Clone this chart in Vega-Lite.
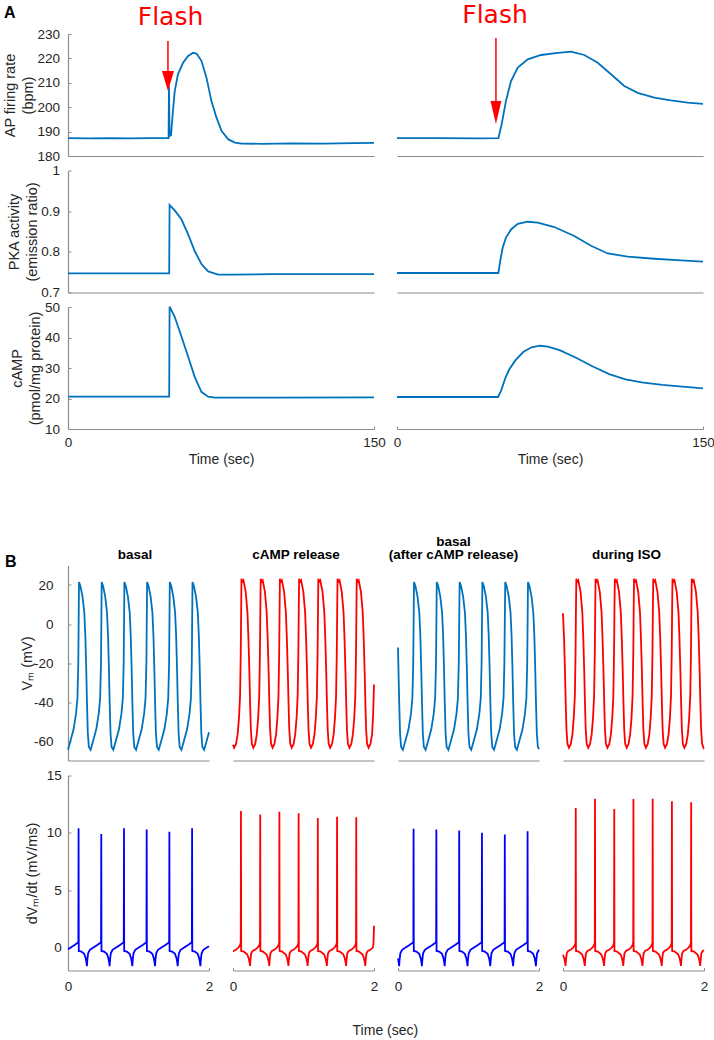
{
"$schema":"https://vega.github.io/schema/vega-lite/v6.json",
"background":"white",
"padding":{"left":2,"top":2,"right":2,"bottom":2},
"config":{
 "view":{"stroke":null},
 "font":"Liberation Sans",
 "axis":{"domainColor":"#8c8c8c","domainWidth":1.2,"tickColor":"#8c8c8c","tickWidth":1,"labelColor":"#262626","titleColor":"#262626","labelFont":"Liberation Sans","titleFont":"Liberation Sans","labelFontSize":13.5,"titleFontSize":14.5,"titleFontWeight":"normal","grid":false,"labelFlush":false},
 "axisY":{"tickSize":-3,"labelPadding":11.5,"titlePadding":1.5,"titleLineHeight":18},
 "axisX":{"tickSize":-3,"labelPadding":9,"titlePadding":4},
 "title":{"font":"Liberation Sans","color":"#000000"}
},
"datasets":{
 "a1L":[{"t":0,"v":187.3},{"t":10,"v":187.2},{"t":20,"v":187.3},{"t":30,"v":187.2},{"t":40,"v":187.3},{"t":49.3,"v":187.3},{"t":49.5,"v":208.7},{"t":49.8,"v":188.2},{"t":50.5,"v":188.5},{"t":51.3,"v":197},{"t":52.3,"v":206.5},{"t":53.9,"v":213.5},{"t":56.4,"v":218.2},{"t":58.9,"v":221},{"t":61.3,"v":222.3},{"t":63,"v":222},{"t":65.4,"v":219},{"t":67.9,"v":212},{"t":70.3,"v":202.5},{"t":72.8,"v":195.7},{"t":75.3,"v":190.2},{"t":78.6,"v":186.8},{"t":81.8,"v":185.5},{"t":85.1,"v":185.1},{"t":95,"v":185},{"t":110,"v":185.2},{"t":125,"v":185.1},{"t":140,"v":185.3},{"t":150,"v":185.4}],
 "a1R":[{"t":0,"v":187.3},{"t":20,"v":187.3},{"t":40,"v":187.2},{"t":49.7,"v":187.3},{"t":51.3,"v":193},{"t":53.4,"v":202.5},{"t":55.9,"v":210.7},{"t":59.2,"v":216.2},{"t":64.1,"v":219.6},{"t":70.6,"v":221.4},{"t":78.8,"v":222.3},{"t":85.3,"v":222.8},{"t":91.8,"v":221.4},{"t":98.4,"v":218.2},{"t":104.9,"v":213.5},{"t":111.4,"v":208.7},{"t":118,"v":205.9},{"t":126.1,"v":203.9},{"t":134.3,"v":202.8},{"t":142.5,"v":201.9},{"t":150,"v":201.4}],
 "a2L":[{"t":0,"v":0.747},{"t":49.6,"v":0.747},{"t":49.8,"v":0.915},{"t":52.3,"v":0.902},{"t":55.6,"v":0.88},{"t":58.9,"v":0.843},{"t":62.1,"v":0.802},{"t":65.4,"v":0.77},{"t":68.7,"v":0.752},{"t":73.6,"v":0.744},{"t":81.8,"v":0.744},{"t":100,"v":0.745},{"t":150,"v":0.745}],
 "a2R":[{"t":0,"v":0.748},{"t":49.7,"v":0.748},{"t":50.6,"v":0.778},{"t":51.8,"v":0.81},{"t":53.4,"v":0.835},{"t":55.9,"v":0.855},{"t":59.2,"v":0.869},{"t":64.1,"v":0.874},{"t":69,"v":0.872},{"t":77.1,"v":0.861},{"t":86.9,"v":0.839},{"t":95.1,"v":0.815},{"t":103.3,"v":0.796},{"t":113.1,"v":0.788},{"t":126.1,"v":0.783},{"t":139.2,"v":0.779},{"t":150,"v":0.776}],
 "a3L":[{"t":0,"v":20.6},{"t":49.6,"v":20.6},{"t":49.8,"v":50.1},{"t":52.3,"v":46.8},{"t":55.6,"v":40.3},{"t":58.9,"v":33.7},{"t":62.1,"v":27.1},{"t":65.4,"v":22.2},{"t":68.7,"v":20.6},{"t":72,"v":20.3},{"t":100,"v":20.3},{"t":150,"v":20.4}],
 "a3R":[{"t":0,"v":20.5},{"t":49.5,"v":20.5},{"t":51,"v":22.5},{"t":53,"v":26.5},{"t":55,"v":29.5},{"t":58,"v":32.5},{"t":62,"v":35.3},{"t":66,"v":36.8},{"t":70,"v":37.3},{"t":74,"v":37},{"t":80,"v":35.8},{"t":88,"v":33.3},{"t":96,"v":30.5},{"t":104,"v":28},{"t":112,"v":26.3},{"t":120,"v":25.3},{"t":130,"v":24.5},{"t":140,"v":23.9},{"t":150,"v":23.3}],
 "arL":[{"t":49,"v":227.1},{"t":49,"v":212}],
 "ahL":[{"t":49,"v":210.7}],
 "arR":[{"t":48.5,"v":228.4},{"t":48.5,"v":200}],
 "ahR":[{"t":48.5,"v":197.8}],
 "v1":[{"t":0,"v":-64.5},{"t":0.034,"v":-60},{"t":0.079,"v":-54},{"t":0.114,"v":-46},{"t":0.134,"v":-38},{"t":0.146,"v":-20},
{"t":0.156,"v":21.5},{"t":0.176,"v":19.5},{"t":0.206,"v":14},{"t":0.231,"v":6},{"t":0.246,"v":-6},{"t":0.258,"v":-22},{"t":0.269,"v":-40},{"t":0.281,"v":-56},{"t":0.296,"v":-63},{"t":0.321,"v":-64.5},{"t":0.356,"v":-60},{"t":0.401,"v":-54},{"t":0.436,"v":-46},{"t":0.456,"v":-38},{"t":0.468,"v":-20},
{"t":0.478,"v":21.5},{"t":0.498,"v":19.5},{"t":0.528,"v":14},{"t":0.553,"v":6},{"t":0.568,"v":-6},{"t":0.58,"v":-22},{"t":0.591,"v":-40},{"t":0.603,"v":-56},{"t":0.618,"v":-63},{"t":0.643,"v":-64.5},{"t":0.678,"v":-60},{"t":0.723,"v":-54},{"t":0.758,"v":-46},{"t":0.778,"v":-38},{"t":0.79,"v":-20},
{"t":0.8,"v":21.5},{"t":0.82,"v":19.5},{"t":0.85,"v":14},{"t":0.875,"v":6},{"t":0.89,"v":-6},{"t":0.902,"v":-22},{"t":0.913,"v":-40},{"t":0.925,"v":-56},{"t":0.94,"v":-63},{"t":0.965,"v":-64.5},{"t":1.0,"v":-60},{"t":1.045,"v":-54},{"t":1.08,"v":-46},{"t":1.1,"v":-38},{"t":1.112,"v":-20},
{"t":1.122,"v":21.5},{"t":1.142,"v":19.5},{"t":1.172,"v":14},{"t":1.197,"v":6},{"t":1.212,"v":-6},{"t":1.224,"v":-22},{"t":1.235,"v":-40},{"t":1.247,"v":-56},{"t":1.262,"v":-63},{"t":1.287,"v":-64.5},{"t":1.322,"v":-60},{"t":1.367,"v":-54},{"t":1.402,"v":-46},{"t":1.422,"v":-38},{"t":1.434,"v":-20},
{"t":1.444,"v":21.5},{"t":1.464,"v":19.5},{"t":1.494,"v":14},{"t":1.519,"v":6},{"t":1.534,"v":-6},{"t":1.546,"v":-22},{"t":1.557,"v":-40},{"t":1.569,"v":-56},{"t":1.584,"v":-63},{"t":1.609,"v":-64.5},{"t":1.644,"v":-60},{"t":1.689,"v":-54},{"t":1.724,"v":-46},{"t":1.744,"v":-38},{"t":1.756,"v":-20},
{"t":1.766,"v":21.5},{"t":1.786,"v":19.5},{"t":1.816,"v":14},{"t":1.841,"v":6},{"t":1.856,"v":-6},{"t":1.868,"v":-22},{"t":1.879,"v":-40},{"t":1.891,"v":-56},{"t":1.906,"v":-63},{"t":1.931,"v":-64.5},{"t":1.966,"v":-60},{"t":2.0,"v":-55.5}],
 "v2":[{"t":0,"v":-62},{"t":0.016,"v":-63.5},{"t":0.043,"v":-61.5},{"t":0.066,"v":-56.5},{"t":0.085,"v":-48},{"t":0.1,"v":-37},{"t":0.11,"v":-15},{"t":0.116,"v":8},
{"t":0.12,"v":23.2},{"t":0.134,"v":21.8},{"t":0.148,"v":22.4},{"t":0.18,"v":16.5},{"t":0.205,"v":6},{"t":0.219,"v":-7.5},{"t":0.232,"v":-24},{"t":0.243,"v":-41},{"t":0.253,"v":-54},{"t":0.267,"v":-61.5},{"t":0.288,"v":-63.5},{"t":0.315,"v":-61.5},{"t":0.338,"v":-56.5},{"t":0.357,"v":-48},{"t":0.372,"v":-37},{"t":0.382,"v":-15},{"t":0.388,"v":8},
{"t":0.393,"v":23.2},{"t":0.407,"v":21.8},{"t":0.421,"v":22.4},{"t":0.453,"v":16.5},{"t":0.478,"v":6},{"t":0.492,"v":-7.5},{"t":0.505,"v":-24},{"t":0.516,"v":-41},{"t":0.526,"v":-54},{"t":0.54,"v":-61.5},{"t":0.561,"v":-63.5},{"t":0.588,"v":-61.5},{"t":0.611,"v":-56.5},{"t":0.63,"v":-48},{"t":0.645,"v":-37},{"t":0.655,"v":-15},{"t":0.661,"v":8},
{"t":0.665,"v":23.2},{"t":0.679,"v":21.8},{"t":0.693,"v":22.4},{"t":0.725,"v":16.5},{"t":0.75,"v":6},{"t":0.764,"v":-7.5},{"t":0.777,"v":-24},{"t":0.788,"v":-41},{"t":0.798,"v":-54},{"t":0.812,"v":-61.5},{"t":0.833,"v":-63.5},{"t":0.86,"v":-61.5},{"t":0.883,"v":-56.5},{"t":0.902,"v":-48},{"t":0.917,"v":-37},{"t":0.927,"v":-15},{"t":0.933,"v":8},
{"t":0.938,"v":23.2},{"t":0.952,"v":21.8},{"t":0.966,"v":22.4},{"t":0.998,"v":16.5},{"t":1.023,"v":6},{"t":1.037,"v":-7.5},{"t":1.05,"v":-24},{"t":1.061,"v":-41},{"t":1.071,"v":-54},{"t":1.085,"v":-61.5},{"t":1.106,"v":-63.5},{"t":1.133,"v":-61.5},{"t":1.156,"v":-56.5},{"t":1.175,"v":-48},{"t":1.19,"v":-37},{"t":1.2,"v":-15},{"t":1.206,"v":8},
{"t":1.21,"v":23.2},{"t":1.224,"v":21.8},{"t":1.238,"v":22.4},{"t":1.27,"v":16.5},{"t":1.295,"v":6},{"t":1.309,"v":-7.5},{"t":1.322,"v":-24},{"t":1.333,"v":-41},{"t":1.343,"v":-54},{"t":1.357,"v":-61.5},{"t":1.378,"v":-63.5},{"t":1.405,"v":-61.5},{"t":1.428,"v":-56.5},{"t":1.447,"v":-48},{"t":1.462,"v":-37},{"t":1.472,"v":-15},{"t":1.478,"v":8},
{"t":1.483,"v":23.2},{"t":1.497,"v":21.8},{"t":1.511,"v":22.4},{"t":1.543,"v":16.5},{"t":1.568,"v":6},{"t":1.582,"v":-7.5},{"t":1.595,"v":-24},{"t":1.606,"v":-41},{"t":1.616,"v":-54},{"t":1.63,"v":-61.5},{"t":1.651,"v":-63.5},{"t":1.678,"v":-61.5},{"t":1.701,"v":-56.5},{"t":1.72,"v":-48},{"t":1.735,"v":-37},{"t":1.745,"v":-15},{"t":1.751,"v":8},
{"t":1.755,"v":23.2},{"t":1.769,"v":21.8},{"t":1.783,"v":22.4},{"t":1.815,"v":16.5},{"t":1.84,"v":6},{"t":1.854,"v":-7.5},{"t":1.867,"v":-24},{"t":1.878,"v":-41},{"t":1.888,"v":-54},{"t":1.902,"v":-61.5},{"t":1.923,"v":-63.5},{"t":1.95,"v":-61.5},{"t":1.973,"v":-56.5},{"t":1.988,"v":-46},{"t":2.0,"v":-31}],
 "v3":[{"t":0,"v":-12},{"t":0.006,"v":-22},{"t":0.017,"v":-40},{"t":0.029,"v":-56},{"t":0.044,"v":-63},{"t":0.069,"v":-64.5},{"t":0.104,"v":-60},{"t":0.149,"v":-54},{"t":0.184,"v":-46},{"t":0.204,"v":-38},{"t":0.216,"v":-20},
{"t":0.227,"v":21.5},{"t":0.247,"v":19.5},{"t":0.277,"v":14},{"t":0.302,"v":6},{"t":0.317,"v":-6},{"t":0.329,"v":-22},{"t":0.34,"v":-40},{"t":0.352,"v":-56},{"t":0.367,"v":-63},{"t":0.392,"v":-64.5},{"t":0.427,"v":-60},{"t":0.472,"v":-54},{"t":0.507,"v":-46},{"t":0.527,"v":-38},{"t":0.539,"v":-20},
{"t":0.55,"v":21.5},{"t":0.57,"v":19.5},{"t":0.6,"v":14},{"t":0.625,"v":6},{"t":0.64,"v":-6},{"t":0.652,"v":-22},{"t":0.663,"v":-40},{"t":0.675,"v":-56},{"t":0.69,"v":-63},{"t":0.715,"v":-64.5},{"t":0.75,"v":-60},{"t":0.795,"v":-54},{"t":0.83,"v":-46},{"t":0.85,"v":-38},{"t":0.862,"v":-20},
{"t":0.874,"v":21.5},{"t":0.894,"v":19.5},{"t":0.924,"v":14},{"t":0.949,"v":6},{"t":0.964,"v":-6},{"t":0.976,"v":-22},{"t":0.987,"v":-40},{"t":0.999,"v":-56},{"t":1.014,"v":-63},{"t":1.039,"v":-64.5},{"t":1.074,"v":-60},{"t":1.119,"v":-54},{"t":1.154,"v":-46},{"t":1.174,"v":-38},{"t":1.186,"v":-20},
{"t":1.197,"v":21.5},{"t":1.217,"v":19.5},{"t":1.247,"v":14},{"t":1.272,"v":6},{"t":1.287,"v":-6},{"t":1.299,"v":-22},{"t":1.31,"v":-40},{"t":1.322,"v":-56},{"t":1.337,"v":-63},{"t":1.362,"v":-64.5},{"t":1.397,"v":-60},{"t":1.442,"v":-54},{"t":1.477,"v":-46},{"t":1.497,"v":-38},{"t":1.509,"v":-20},
{"t":1.521,"v":21.5},{"t":1.541,"v":19.5},{"t":1.571,"v":14},{"t":1.596,"v":6},{"t":1.611,"v":-6},{"t":1.623,"v":-22},{"t":1.634,"v":-40},{"t":1.646,"v":-56},{"t":1.661,"v":-63},{"t":1.686,"v":-64.5},{"t":1.721,"v":-60},{"t":1.766,"v":-54},{"t":1.801,"v":-46},{"t":1.821,"v":-38},{"t":1.833,"v":-20},
{"t":1.844,"v":21.5},{"t":1.864,"v":19.5},{"t":1.894,"v":14},{"t":1.919,"v":6},{"t":1.934,"v":-6},{"t":1.946,"v":-22},{"t":1.957,"v":-40},{"t":1.969,"v":-56},{"t":1.984,"v":-63},{"t":2.0,"v":-64.2}],
 "v4":[{"t":0,"v":5.5},{"t":0.015,"v":-7.5},{"t":0.028,"v":-24},{"t":0.039,"v":-41},{"t":0.049,"v":-54},{"t":0.063,"v":-61.5},{"t":0.084,"v":-63.5},{"t":0.111,"v":-61.5},{"t":0.134,"v":-56.5},{"t":0.153,"v":-48},{"t":0.168,"v":-37},{"t":0.178,"v":-15},{"t":0.184,"v":8},
{"t":0.189,"v":23.2},{"t":0.203,"v":21.8},{"t":0.217,"v":22.4},{"t":0.249,"v":16.5},{"t":0.274,"v":6},{"t":0.288,"v":-7.5},{"t":0.301,"v":-24},{"t":0.312,"v":-41},{"t":0.322,"v":-54},{"t":0.336,"v":-61.5},{"t":0.357,"v":-63.5},{"t":0.384,"v":-61.5},{"t":0.407,"v":-56.5},{"t":0.426,"v":-48},{"t":0.441,"v":-37},{"t":0.451,"v":-15},{"t":0.457,"v":8},
{"t":0.462,"v":23.2},{"t":0.476,"v":21.8},{"t":0.49,"v":22.4},{"t":0.522,"v":16.5},{"t":0.547,"v":6},{"t":0.561,"v":-7.5},{"t":0.574,"v":-24},{"t":0.585,"v":-41},{"t":0.595,"v":-54},{"t":0.609,"v":-61.5},{"t":0.63,"v":-63.5},{"t":0.657,"v":-61.5},{"t":0.68,"v":-56.5},{"t":0.699,"v":-48},{"t":0.714,"v":-37},{"t":0.724,"v":-15},{"t":0.73,"v":8},
{"t":0.735,"v":23.2},{"t":0.749,"v":21.8},{"t":0.763,"v":22.4},{"t":0.795,"v":16.5},{"t":0.82,"v":6},{"t":0.834,"v":-7.5},{"t":0.847,"v":-24},{"t":0.858,"v":-41},{"t":0.868,"v":-54},{"t":0.882,"v":-61.5},{"t":0.903,"v":-63.5},{"t":0.93,"v":-61.5},{"t":0.953,"v":-56.5},{"t":0.972,"v":-48},{"t":0.987,"v":-37},{"t":0.997,"v":-15},{"t":1.003,"v":8},
{"t":1.007,"v":23.2},{"t":1.021,"v":21.8},{"t":1.035,"v":22.4},{"t":1.067,"v":16.5},{"t":1.092,"v":6},{"t":1.106,"v":-7.5},{"t":1.119,"v":-24},{"t":1.13,"v":-41},{"t":1.14,"v":-54},{"t":1.154,"v":-61.5},{"t":1.175,"v":-63.5},{"t":1.202,"v":-61.5},{"t":1.225,"v":-56.5},{"t":1.244,"v":-48},{"t":1.259,"v":-37},{"t":1.269,"v":-15},{"t":1.275,"v":8},
{"t":1.28,"v":23.2},{"t":1.294,"v":21.8},{"t":1.308,"v":22.4},{"t":1.34,"v":16.5},{"t":1.365,"v":6},{"t":1.379,"v":-7.5},{"t":1.392,"v":-24},{"t":1.403,"v":-41},{"t":1.413,"v":-54},{"t":1.427,"v":-61.5},{"t":1.448,"v":-63.5},{"t":1.475,"v":-61.5},{"t":1.498,"v":-56.5},{"t":1.517,"v":-48},{"t":1.532,"v":-37},{"t":1.542,"v":-15},{"t":1.548,"v":8},
{"t":1.553,"v":23.2},{"t":1.567,"v":21.8},{"t":1.581,"v":22.4},{"t":1.613,"v":16.5},{"t":1.638,"v":6},{"t":1.652,"v":-7.5},{"t":1.665,"v":-24},{"t":1.676,"v":-41},{"t":1.686,"v":-54},{"t":1.7,"v":-61.5},{"t":1.721,"v":-63.5},{"t":1.748,"v":-61.5},{"t":1.771,"v":-56.5},{"t":1.79,"v":-48},{"t":1.805,"v":-37},{"t":1.815,"v":-15},{"t":1.821,"v":8},
{"t":1.826,"v":23.2},{"t":1.84,"v":21.8},{"t":1.854,"v":22.4},{"t":1.886,"v":16.5},{"t":1.911,"v":6},{"t":1.925,"v":-7.5},{"t":1.938,"v":-24},{"t":1.949,"v":-41},{"t":1.959,"v":-54},{"t":1.973,"v":-61.5},{"t":1.994,"v":-63.5},{"t":2.0,"v":-63.2}],
 "d1":[{"t":0,"v":-0.15},{"t":0.038,"v":0},{"t":0.088,"v":0.2},{"t":0.123,"v":0.35},
{"t":0.14,"v":0.42},{"t":0.147,"v":0.55},{"t":0.15,"v":10.4},{"t":0.153,"v":-0.3},{"t":0.19,"v":-0.35},{"t":0.23,"v":-0.55},{"t":0.25,"v":-0.9},{"t":0.262,"v":-1.3},{"t":0.268,"v":-1.62},{"t":0.274,"v":-1.1},{"t":0.285,"v":-0.5},{"t":0.31,"v":-0.2},{"t":0.36,"v":0},{"t":0.41,"v":0.2},{"t":0.445,"v":0.35},
{"t":0.462,"v":0.42},{"t":0.469,"v":0.55},{"t":0.472,"v":9.9},{"t":0.475,"v":-0.3},{"t":0.512,"v":-0.35},{"t":0.552,"v":-0.55},{"t":0.572,"v":-0.9},{"t":0.584,"v":-1.3},{"t":0.59,"v":-1.62},{"t":0.596,"v":-1.1},{"t":0.607,"v":-0.5},{"t":0.632,"v":-0.2},{"t":0.682,"v":0},{"t":0.732,"v":0.2},{"t":0.767,"v":0.35},
{"t":0.784,"v":0.42},{"t":0.791,"v":0.55},{"t":0.794,"v":10.4},{"t":0.797,"v":-0.3},{"t":0.834,"v":-0.35},{"t":0.874,"v":-0.55},{"t":0.894,"v":-0.9},{"t":0.906,"v":-1.3},{"t":0.912,"v":-1.62},{"t":0.918,"v":-1.1},{"t":0.929,"v":-0.5},{"t":0.954,"v":-0.2},{"t":1.004,"v":0},{"t":1.054,"v":0.2},{"t":1.089,"v":0.35},
{"t":1.106,"v":0.42},{"t":1.113,"v":0.55},{"t":1.116,"v":10.3},{"t":1.119,"v":-0.3},{"t":1.156,"v":-0.35},{"t":1.196,"v":-0.55},{"t":1.216,"v":-0.9},{"t":1.228,"v":-1.3},{"t":1.234,"v":-1.62},{"t":1.24,"v":-1.1},{"t":1.251,"v":-0.5},{"t":1.276,"v":-0.2},{"t":1.326,"v":0},{"t":1.376,"v":0.2},{"t":1.411,"v":0.35},
{"t":1.428,"v":0.42},{"t":1.435,"v":0.55},{"t":1.438,"v":10.1},{"t":1.441,"v":-0.3},{"t":1.478,"v":-0.35},{"t":1.518,"v":-0.55},{"t":1.538,"v":-0.9},{"t":1.55,"v":-1.3},{"t":1.556,"v":-1.62},{"t":1.562,"v":-1.1},{"t":1.573,"v":-0.5},{"t":1.598,"v":-0.2},{"t":1.648,"v":0},{"t":1.698,"v":0.2},{"t":1.733,"v":0.35},
{"t":1.75,"v":0.42},{"t":1.757,"v":0.55},{"t":1.76,"v":10.4},{"t":1.763,"v":-0.3},{"t":1.8,"v":-0.35},{"t":1.84,"v":-0.55},{"t":1.86,"v":-0.9},{"t":1.872,"v":-1.3},{"t":1.878,"v":-1.62},{"t":1.884,"v":-1.1},{"t":1.895,"v":-0.5},{"t":1.92,"v":-0.2},{"t":1.97,"v":0},{"t":2.0,"v":0.12}],
 "d2":[{"t":0,"v":-0.3},{"t":0.006,"v":-0.3},{"t":0.041,"v":-0.2},{"t":0.076,"v":0},{"t":0.096,"v":0.15},
{"t":0.105,"v":0.3},{"t":0.11,"v":0.5},{"t":0.113,"v":11.9},{"t":0.116,"v":-0.3},{"t":0.153,"v":-0.35},{"t":0.203,"v":-0.6},{"t":0.223,"v":-0.95},{"t":0.235,"v":-1.3},{"t":0.241,"v":-1.6},{"t":0.247,"v":-1.1},{"t":0.258,"v":-0.5},{"t":0.278,"v":-0.3},{"t":0.313,"v":-0.2},{"t":0.348,"v":0},{"t":0.368,"v":0.15},
{"t":0.378,"v":0.3},{"t":0.383,"v":0.5},{"t":0.386,"v":11.6},{"t":0.389,"v":-0.3},{"t":0.426,"v":-0.35},{"t":0.476,"v":-0.6},{"t":0.496,"v":-0.95},{"t":0.508,"v":-1.3},{"t":0.514,"v":-1.6},{"t":0.52,"v":-1.1},{"t":0.531,"v":-0.5},{"t":0.551,"v":-0.3},{"t":0.586,"v":-0.2},{"t":0.621,"v":0},{"t":0.641,"v":0.15},
{"t":0.65,"v":0.3},{"t":0.655,"v":0.5},{"t":0.658,"v":11.85},{"t":0.661,"v":-0.3},{"t":0.698,"v":-0.35},{"t":0.748,"v":-0.6},{"t":0.768,"v":-0.95},{"t":0.78,"v":-1.3},{"t":0.786,"v":-1.6},{"t":0.792,"v":-1.1},{"t":0.803,"v":-0.5},{"t":0.823,"v":-0.3},{"t":0.858,"v":-0.2},{"t":0.893,"v":0},{"t":0.913,"v":0.15},
{"t":0.923,"v":0.3},{"t":0.928,"v":0.5},{"t":0.931,"v":11.7},{"t":0.934,"v":-0.3},{"t":0.971,"v":-0.35},{"t":1.021,"v":-0.6},{"t":1.041,"v":-0.95},{"t":1.053,"v":-1.3},{"t":1.059,"v":-1.6},{"t":1.065,"v":-1.1},{"t":1.076,"v":-0.5},{"t":1.096,"v":-0.3},{"t":1.131,"v":-0.2},{"t":1.166,"v":0},{"t":1.186,"v":0.15},
{"t":1.195,"v":0.3},{"t":1.2,"v":0.5},{"t":1.203,"v":11.3},{"t":1.206,"v":-0.3},{"t":1.243,"v":-0.35},{"t":1.293,"v":-0.6},{"t":1.313,"v":-0.95},{"t":1.325,"v":-1.3},{"t":1.331,"v":-1.6},{"t":1.337,"v":-1.1},{"t":1.348,"v":-0.5},{"t":1.368,"v":-0.3},{"t":1.403,"v":-0.2},{"t":1.438,"v":0},{"t":1.458,"v":0.15},
{"t":1.468,"v":0.3},{"t":1.473,"v":0.5},{"t":1.476,"v":11.4},{"t":1.479,"v":-0.3},{"t":1.516,"v":-0.35},{"t":1.566,"v":-0.6},{"t":1.586,"v":-0.95},{"t":1.598,"v":-1.3},{"t":1.604,"v":-1.6},{"t":1.61,"v":-1.1},{"t":1.621,"v":-0.5},{"t":1.641,"v":-0.3},{"t":1.676,"v":-0.2},{"t":1.711,"v":0},{"t":1.731,"v":0.15},
{"t":1.74,"v":0.3},{"t":1.745,"v":0.5},{"t":1.748,"v":11.35},{"t":1.751,"v":-0.3},{"t":1.788,"v":-0.35},{"t":1.838,"v":-0.6},{"t":1.858,"v":-0.95},{"t":1.87,"v":-1.3},{"t":1.876,"v":-1.6},{"t":1.882,"v":-1.1},{"t":1.893,"v":-0.5},{"t":1.913,"v":-0.3},{"t":1.948,"v":-0.2},{"t":1.983,"v":0},{"t":1.993,"v":0.3},{"t":2.0,"v":1.9}],
 "d3":[{"t":0,"v":-0.95},{"t":0.01,"v":-1.3},{"t":0.016,"v":-1.62},{"t":0.022,"v":-1.1},{"t":0.033,"v":-0.5},{"t":0.058,"v":-0.2},{"t":0.108,"v":0},{"t":0.158,"v":0.2},{"t":0.193,"v":0.35},
{"t":0.211,"v":0.42},{"t":0.218,"v":0.55},{"t":0.221,"v":10.35},{"t":0.224,"v":-0.3},{"t":0.261,"v":-0.35},{"t":0.301,"v":-0.55},{"t":0.321,"v":-0.9},{"t":0.333,"v":-1.3},{"t":0.339,"v":-1.62},{"t":0.345,"v":-1.1},{"t":0.356,"v":-0.5},{"t":0.381,"v":-0.2},{"t":0.431,"v":0},{"t":0.481,"v":0.2},{"t":0.516,"v":0.35},
{"t":0.534,"v":0.42},{"t":0.541,"v":0.55},{"t":0.544,"v":10.3},{"t":0.547,"v":-0.3},{"t":0.584,"v":-0.35},{"t":0.624,"v":-0.55},{"t":0.644,"v":-0.9},{"t":0.656,"v":-1.3},{"t":0.662,"v":-1.62},{"t":0.668,"v":-1.1},{"t":0.679,"v":-0.5},{"t":0.704,"v":-0.2},{"t":0.754,"v":0},{"t":0.804,"v":0.2},{"t":0.839,"v":0.35},
{"t":0.858,"v":0.42},{"t":0.865,"v":0.55},{"t":0.868,"v":10.2},{"t":0.871,"v":-0.3},{"t":0.908,"v":-0.35},{"t":0.948,"v":-0.55},{"t":0.968,"v":-0.9},{"t":0.98,"v":-1.3},{"t":0.986,"v":-1.62},{"t":0.992,"v":-1.1},{"t":1.003,"v":-0.5},{"t":1.028,"v":-0.2},{"t":1.078,"v":0},{"t":1.128,"v":0.2},{"t":1.163,"v":0.35},
{"t":1.181,"v":0.42},{"t":1.188,"v":0.55},{"t":1.191,"v":10.0},{"t":1.194,"v":-0.3},{"t":1.231,"v":-0.35},{"t":1.271,"v":-0.55},{"t":1.291,"v":-0.9},{"t":1.303,"v":-1.3},{"t":1.309,"v":-1.62},{"t":1.315,"v":-1.1},{"t":1.326,"v":-0.5},{"t":1.351,"v":-0.2},{"t":1.401,"v":0},{"t":1.451,"v":0.2},{"t":1.486,"v":0.35},
{"t":1.505,"v":0.42},{"t":1.512,"v":0.55},{"t":1.515,"v":9.86},{"t":1.518,"v":-0.3},{"t":1.555,"v":-0.35},{"t":1.595,"v":-0.55},{"t":1.615,"v":-0.9},{"t":1.627,"v":-1.3},{"t":1.633,"v":-1.62},{"t":1.639,"v":-1.1},{"t":1.65,"v":-0.5},{"t":1.675,"v":-0.2},{"t":1.725,"v":0},{"t":1.775,"v":0.2},{"t":1.81,"v":0.35},
{"t":1.828,"v":0.42},{"t":1.835,"v":0.55},{"t":1.838,"v":10.15},{"t":1.841,"v":-0.3},{"t":1.878,"v":-0.35},{"t":1.918,"v":-0.55},{"t":1.938,"v":-0.9},{"t":1.95,"v":-1.3},{"t":1.956,"v":-1.62},{"t":1.962,"v":-1.1},{"t":1.973,"v":-0.5},{"t":2.0,"v":-0.19}],
 "d4":[{"t":0,"v":-0.62},{"t":0.018,"v":-0.95},{"t":0.03,"v":-1.3},{"t":0.036,"v":-1.6},{"t":0.042,"v":-1.1},{"t":0.053,"v":-0.5},{"t":0.073,"v":-0.3},{"t":0.108,"v":-0.2},{"t":0.143,"v":0},{"t":0.163,"v":0.15},
{"t":0.173,"v":0.3},{"t":0.178,"v":0.5},{"t":0.181,"v":12.17},{"t":0.184,"v":-0.3},{"t":0.221,"v":-0.35},{"t":0.271,"v":-0.6},{"t":0.291,"v":-0.95},{"t":0.303,"v":-1.3},{"t":0.309,"v":-1.6},{"t":0.315,"v":-1.1},{"t":0.326,"v":-0.5},{"t":0.346,"v":-0.3},{"t":0.381,"v":-0.2},{"t":0.416,"v":0},{"t":0.436,"v":0.15},
{"t":0.446,"v":0.3},{"t":0.451,"v":0.5},{"t":0.454,"v":12.98},{"t":0.457,"v":-0.3},{"t":0.494,"v":-0.35},{"t":0.544,"v":-0.6},{"t":0.564,"v":-0.95},{"t":0.576,"v":-1.3},{"t":0.582,"v":-1.6},{"t":0.588,"v":-1.1},{"t":0.599,"v":-0.5},{"t":0.619,"v":-0.3},{"t":0.654,"v":-0.2},{"t":0.689,"v":0},{"t":0.709,"v":0.15},
{"t":0.719,"v":0.3},{"t":0.724,"v":0.5},{"t":0.727,"v":12.08},{"t":0.73,"v":-0.3},{"t":0.767,"v":-0.35},{"t":0.817,"v":-0.6},{"t":0.837,"v":-0.95},{"t":0.849,"v":-1.3},{"t":0.855,"v":-1.6},{"t":0.861,"v":-1.1},{"t":0.872,"v":-0.5},{"t":0.892,"v":-0.3},{"t":0.927,"v":-0.2},{"t":0.962,"v":0},{"t":0.982,"v":0.15},
{"t":0.991,"v":0.3},{"t":0.996,"v":0.5},{"t":0.999,"v":12.95},{"t":1.002,"v":-0.3},{"t":1.039,"v":-0.35},{"t":1.089,"v":-0.6},{"t":1.109,"v":-0.95},{"t":1.121,"v":-1.3},{"t":1.127,"v":-1.6},{"t":1.133,"v":-1.1},{"t":1.144,"v":-0.5},{"t":1.164,"v":-0.3},{"t":1.199,"v":-0.2},{"t":1.234,"v":0},{"t":1.254,"v":0.15},
{"t":1.264,"v":0.3},{"t":1.269,"v":0.5},{"t":1.272,"v":12.98},{"t":1.275,"v":-0.3},{"t":1.312,"v":-0.35},{"t":1.362,"v":-0.6},{"t":1.382,"v":-0.95},{"t":1.394,"v":-1.3},{"t":1.4,"v":-1.6},{"t":1.406,"v":-1.1},{"t":1.417,"v":-0.5},{"t":1.437,"v":-0.3},{"t":1.472,"v":-0.2},{"t":1.507,"v":0},{"t":1.527,"v":0.15},
{"t":1.537,"v":0.3},{"t":1.542,"v":0.5},{"t":1.545,"v":12.75},{"t":1.548,"v":-0.3},{"t":1.585,"v":-0.35},{"t":1.635,"v":-0.6},{"t":1.655,"v":-0.95},{"t":1.667,"v":-1.3},{"t":1.673,"v":-1.6},{"t":1.679,"v":-1.1},{"t":1.69,"v":-0.5},{"t":1.71,"v":-0.3},{"t":1.745,"v":-0.2},{"t":1.78,"v":0},{"t":1.8,"v":0.15},
{"t":1.81,"v":0.3},{"t":1.815,"v":0.5},{"t":1.818,"v":12.66},{"t":1.821,"v":-0.3},{"t":1.858,"v":-0.35},{"t":1.908,"v":-0.6},{"t":1.928,"v":-0.95},{"t":1.94,"v":-1.3},{"t":1.946,"v":-1.6},{"t":1.952,"v":-1.1},{"t":1.963,"v":-0.5},{"t":1.983,"v":-0.3},{"t":2.0,"v":-0.25}]
},
"title":{"text":"Time (sec)","orient":"bottom","anchor":"middle","frame":"bounds","offset":31,"dx":27,"baseline":"top","fontSize":14,"fontWeight":"normal","color":"#262626"},
"spacing":67.5,
"vconcat":[
{
 "title":{"text":"A","anchor":"start","frame":"bounds","orient":"top","baseline":"top","offset":-18.2,"dx":1.5,"fontSize":16,"fontWeight":"bold","color":"#000000"},
 "columns":2,
 "bounds":"flush",
 "spacing":{"row":14.5,"column":23},
 "concat":[
  {"width":306,"height":122,
   "title":{"text":"Flash","anchor":"start","align":"center","dx":102.5,"frame":"group","offset":-22.75,"fontSize":25,"font":"DejaVu Sans","fontWeight":"normal","color":"#ff0000","baseline":"alphabetic"},
   "encoding":{"x":{"field":"t","type":"quantitative","scale":{"domain":[0,150],"nice":false,"zero":false},"axis":{"labels":false,"ticks":false,"title":null}},
     "y":{"field":"v","type":"quantitative","scale":{"domain":[180,230],"nice":false,"zero":false},"axis":{"values":[180,190,200,210,220,230],"title":["AP firing rate","(bpm)"]}}},
   "layer":[
    {"data":{"name":"a1L"},"mark":{"type":"line","color":"#0072BD","strokeWidth":1.8}},
    {"data":{"name":"arL"},"mark":{"type":"line","color":"#ff0000","strokeWidth":1.5}},
    {"data":{"name":"ahL"},"mark":{"type":"point","shape":"M-0.6,-1L0.6,-1L0,1Z","filled":true,"color":"#ff0000","size":400,"opacity":1}}]},
  {"width":306,"height":122,
   "title":{"text":"Flash","anchor":"start","align":"center","dx":98,"frame":"group","offset":-13.5,"fontSize":25,"font":"DejaVu Sans","fontWeight":"normal","color":"#ff0000","baseline":"alphabetic"},
   "encoding":{"x":{"field":"t","type":"quantitative","scale":{"domain":[0,150],"nice":false,"zero":false},"axis":{"labels":false,"ticks":false,"title":null}},
     "y":{"field":"v","type":"quantitative","scale":{"domain":[180,230],"nice":false,"zero":false},"axis":null}},
   "layer":[
    {"data":{"name":"a1R"},"mark":{"type":"line","color":"#0072BD","strokeWidth":1.8}},
    {"data":{"name":"arR"},"mark":{"type":"line","color":"#ff0000","strokeWidth":1.5}},
    {"data":{"name":"ahR"},"mark":{"type":"point","shape":"M-0.47,-1L0.47,-1L0,1Z","filled":true,"color":"#ff0000","size":529,"opacity":1}}]},
  {"width":306,"height":122,"data":{"name":"a2L"},"mark":{"type":"line","color":"#0072BD","strokeWidth":1.8},
   "encoding":{"x":{"field":"t","type":"quantitative","scale":{"domain":[0,150],"nice":false,"zero":false},"axis":{"labels":false,"ticks":false,"title":null}},
     "y":{"field":"v","type":"quantitative","scale":{"domain":[0.7,1],"nice":false,"zero":false},"axis":{"values":[0.7,0.8,0.9,1],"format":".1~f","title":["PKA activity","(emission ratio)"]}}}},
  {"width":306,"height":122,"data":{"name":"a2R"},"mark":{"type":"line","color":"#0072BD","strokeWidth":1.8},
   "encoding":{"x":{"field":"t","type":"quantitative","scale":{"domain":[0,150],"nice":false,"zero":false},"axis":{"labels":false,"ticks":false,"title":null}},
     "y":{"field":"v","type":"quantitative","scale":{"domain":[0.7,1],"nice":false,"zero":false},"axis":null}}},
  {"width":306,"height":122,"data":{"name":"a3L"},"mark":{"type":"line","color":"#0072BD","strokeWidth":1.8},
   "encoding":{"x":{"field":"t","type":"quantitative","scale":{"domain":[0,150],"nice":false,"zero":false},"axis":{"values":[0,150],"title":"Time (sec)","titleFontSize":14}},
     "y":{"field":"v","type":"quantitative","scale":{"domain":[10,50],"nice":false,"zero":false},"axis":{"values":[10,20,30,40,50],"title":["cAMP","(pmol/mg protein)"]}}}},
  {"width":306,"height":122,"data":{"name":"a3R"},"mark":{"type":"line","color":"#0072BD","strokeWidth":1.8},
   "encoding":{"x":{"field":"t","type":"quantitative","scale":{"domain":[0,150],"nice":false,"zero":false},"axis":{"values":[0,150],"title":"Time (sec)","titleFontSize":14}},
     "y":{"field":"v","type":"quantitative","scale":{"domain":[10,50],"nice":false,"zero":false},"axis":null}}}
 ]
},
{
 "title":{"text":"B","anchor":"start","frame":"bounds","orient":"top","baseline":"top","offset":-35.5,"dx":-14.5,"fontSize":16,"fontWeight":"bold","color":"#000000"},
 "columns":4,
 "bounds":"flush",
 "spacing":{"row":15,"column":24},
 "concat":[
  {"width":141,"height":195,"data":{"name":"v1"},"mark":{"type":"line","color":"#0072BD","strokeWidth":1.8},
   "title":{"text":"basal","anchor":"middle","frame":"group","dx":-3.5,"offset":-10,"fontSize":13.5,"fontWeight":"bold","baseline":"bottom"},
   "encoding":{"x":{"field":"t","type":"quantitative","scale":{"domain":[0,2],"nice":false,"zero":false},"axis":{"labels":false,"ticks":false,"title":null}},
     "y":{"field":"v","type":"quantitative","scale":{"domain":[-70,30],"nice":false,"zero":false},"axis":{"values":[-60,-40,-20,0,20],"labelExpr":"'' + datum.value","labelPadding":18,"titlePadding":-1,"title":"Vₘ  (mV)"}}}},
  {"width":141,"height":195,"data":{"name":"v2"},"mark":{"type":"line","color":"#ff0000","strokeWidth":1.8},
   "title":{"text":"cAMP release","anchor":"middle","frame":"group","dx":-7.5,"offset":-10,"fontSize":13.5,"fontWeight":"bold","baseline":"bottom"},
   "encoding":{"x":{"field":"t","type":"quantitative","scale":{"domain":[0,2],"nice":false,"zero":false},"axis":{"labels":false,"ticks":false,"title":null}},
     "y":{"field":"v","type":"quantitative","scale":{"domain":[-70,30],"nice":false,"zero":false},"axis":null}}},
  {"width":141,"height":195,"data":{"name":"v3"},"mark":{"type":"line","color":"#0072BD","strokeWidth":1.8},
   "title":{"text":["basal","(after cAMP release)"],"anchor":"middle","frame":"group","dx":-15,"offset":-10,"fontSize":13.5,"fontWeight":"bold","baseline":"bottom","lineHeight":13.5},
   "encoding":{"x":{"field":"t","type":"quantitative","scale":{"domain":[0,2],"nice":false,"zero":false},"axis":{"labels":false,"ticks":false,"title":null}},
     "y":{"field":"v","type":"quantitative","scale":{"domain":[-70,30],"nice":false,"zero":false},"axis":null}}},
  {"width":141,"height":195,"data":{"name":"v4"},"mark":{"type":"line","color":"#ff0000","strokeWidth":1.8},
   "title":{"text":"during ISO","anchor":"middle","frame":"group","dx":-7,"offset":-10,"fontSize":13.5,"fontWeight":"bold","baseline":"bottom"},
   "encoding":{"x":{"field":"t","type":"quantitative","scale":{"domain":[0,2],"nice":false,"zero":false},"axis":{"labels":false,"ticks":false,"title":null}},
     "y":{"field":"v","type":"quantitative","scale":{"domain":[-70,30],"nice":false,"zero":false},"axis":null}}},
  {"width":141,"height":195,"data":{"name":"d1"},"mark":{"type":"line","color":"#0000ff","strokeWidth":1.8},
   "encoding":{"x":{"field":"t","type":"quantitative","scale":{"domain":[0,2],"nice":false,"zero":false},"axis":{"values":[0,2],"labelPadding":12,"title":null}},
     "y":{"field":"v","type":"quantitative","scale":{"domain":[-2,15],"nice":false,"zero":false},"axis":{"values":[0,5,10,15],"labelPadding":9.7,"titlePadding":6.5,"title":"dVₘ/dt (mV/ms)"}}}},
  {"width":141,"height":195,"data":{"name":"d2"},"mark":{"type":"line","color":"#ff0000","strokeWidth":1.8},
   "encoding":{"x":{"field":"t","type":"quantitative","scale":{"domain":[0,2],"nice":false,"zero":false},"axis":{"values":[0,2],"labelPadding":12,"title":null}},
     "y":{"field":"v","type":"quantitative","scale":{"domain":[-2,15],"nice":false,"zero":false},"axis":null}}},
  {"width":141,"height":195,"data":{"name":"d3"},"mark":{"type":"line","color":"#0000ff","strokeWidth":1.8},
   "encoding":{"x":{"field":"t","type":"quantitative","scale":{"domain":[0,2],"nice":false,"zero":false},"axis":{"values":[0,2],"labelPadding":12,"title":null}},
     "y":{"field":"v","type":"quantitative","scale":{"domain":[-2,15],"nice":false,"zero":false},"axis":null}}},
  {"width":141,"height":195,"data":{"name":"d4"},"mark":{"type":"line","color":"#ff0000","strokeWidth":1.8},
   "encoding":{"x":{"field":"t","type":"quantitative","scale":{"domain":[0,2],"nice":false,"zero":false},"axis":{"values":[0,2],"labelPadding":12,"title":null}},
     "y":{"field":"v","type":"quantitative","scale":{"domain":[-2,15],"nice":false,"zero":false},"axis":null}}}
 ]
}
]
}
